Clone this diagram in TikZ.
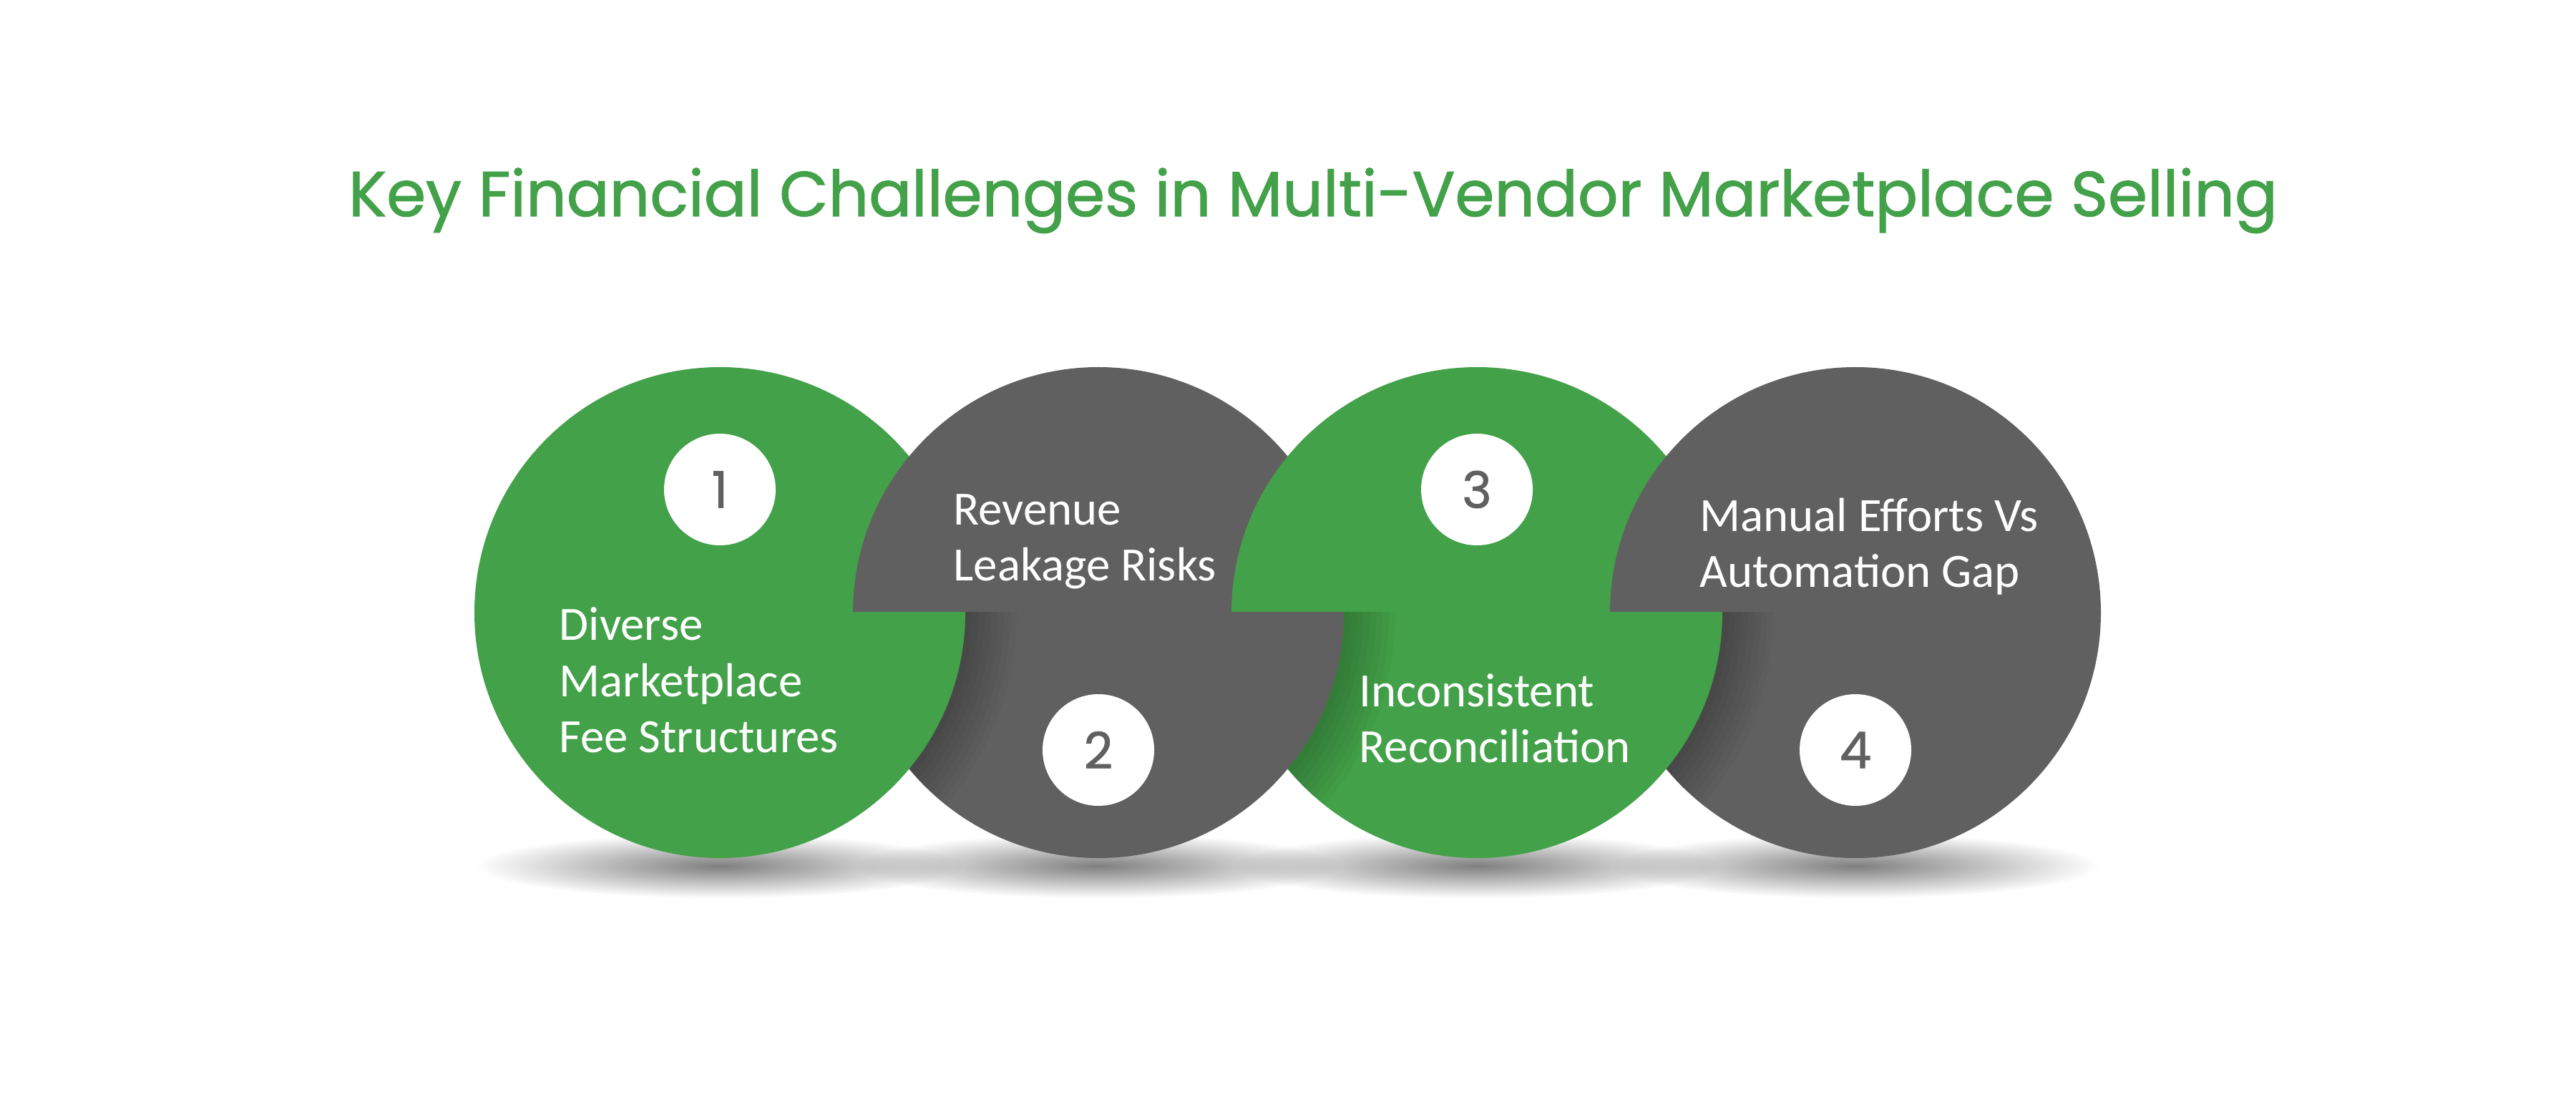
\documentclass[tikz,border=0pt]{standalone}
\usepackage{fontspec}
\setmainfont{Carlito}
\newfontfamily\poppins[FakeBold=1.2]{Poppins}
\usetikzlibrary{fadings}
\definecolor{brandgreen}{RGB}{67,161,73}
\definecolor{slategray}{RGB}{96,96,96}
\tikzfading[name=floorfade, inner color=transparent!0, outer color=transparent!100]

\begin{document}
\begin{tikzpicture}[
  badge/.style={circle, fill=white, minimum size=1.56cm, inner sep=0pt, text=slategray,
    font=\poppins\fontsize{20}{24}\selectfont},
  blurb/.style={anchor=base west, align=left, inner sep=0pt, text=white,
    font=\fontsize{19}{22.4}\selectfont}]
  \useasboundingbox (0,0) rectangle (36,15.5);
  \fill[white] (0,0) rectangle (36,15.5);
  % title
  \node[font=\poppins\fontsize{25.2}{30}\selectfont, text=brandgreen, anchor=base] (title)
    at (18.35,12.48) {Key Financial Challenges in Multi-Vendor Marketplace Selling};
  % soft shadows on the floor
  \foreach \x in {10.06,15.35,20.64,25.93}
    \fill[black, opacity=0.5, path fading=floorfade] (\x,3.4) ellipse [x radius=3.4, y radius=0.45];
  % upper halves, the right circle lies on top
  \foreach \x/\c in {10.06/brandgreen, 15.35/slategray, 20.64/brandgreen, 25.93/slategray} {
    \begin{scope}
      \clip (0,6.94) rectangle (36,15.5);
      \fill[\c] (\x,6.94) circle (3.43);
    \end{scope}
  }
  % lower halves, the left circle lies on top and throws a shadow
  \begin{scope}
    \clip (0,0) rectangle (36,6.94);
    \fill[slategray] (25.93,6.94) circle (3.43);
  \end{scope}
  \foreach \x/\c/\nx in {20.64/brandgreen/25.93, 15.35/slategray/20.64, 10.06/brandgreen/15.35} {
    \begin{scope}
      \clip (0,0) rectangle (36,6.94);
      \clip (\nx,6.94) circle (3.43);
      \foreach \k in {1,...,8}
        \fill[black, opacity=0.028] (\x,6.94) circle ({3.43+\k*0.09});
    \end{scope}
    \begin{scope}
      \clip (0,0) rectangle (36,6.94);
      \fill[\c] (\x,6.94) circle (3.43);
    \end{scope}
  }
  % numbers
  \foreach \n/\x/\y in {1/10.06/8.66, 2/15.35/5.02, 3/20.64/8.66, 4/25.93/5.02}
    \node[badge] (badge\n) at (\x,\y) {\n};
  % texts (base is the last line)
  \node[blurb] (fees) at (7.81,4.98) {Diverse\\Marketplace\\Fee Structures};
  \node[blurb] (leakage) at (13.32,7.38) {Revenue\\Leakage Risks};
  \node[blurb] (recon) at (18.99,4.84) {Inconsistent\\Reconciliation};
  \node[blurb] (manual) at (23.75,7.29) {Manual Efforts Vs\\Automation Gap};
\end{tikzpicture}
\end{document}
